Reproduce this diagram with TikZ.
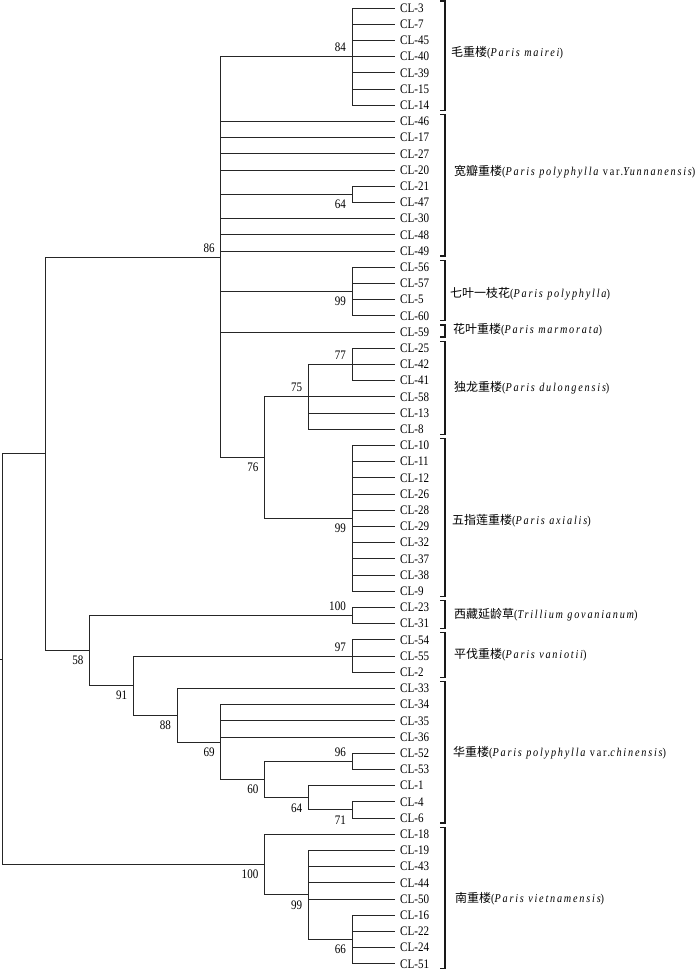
\documentclass[tikz,border=0pt]{standalone}
\usepackage{fontspec}
\setmainfont{Liberation Serif}
\newfontfamily\clfont[FakeStretch=0.85]{Liberation Serif}
\newfontfamily\spfont[FakeStretch=0.85,LetterSpace=15]{Liberation Serif}
\newfontfamily\cjk{Noto Sans CJK SC}
\begin{document}
\begin{tikzpicture}[x=1pt,y=-1pt,
  tree/.style={draw=black!85, line width=1pt},
  leaf/.style={anchor=west, inner xsep=5pt, inner ysep=0pt, text=black,
    font=\clfont\fontsize{13}{15}\selectfont},
  bsup/.style={anchor=south east, inner sep=0pt, xshift=-6pt, yshift=4.5pt, text=black,
    font=\clfont\fontsize{13}{15}\selectfont},
  bsdn/.style={anchor=north east, inner sep=0pt, xshift=-6pt, yshift=-5.5pt, text=black,
    font=\clfont\fontsize{13}{15}\selectfont},
  brk/.style={draw=black!90, line width=1.3pt},
  grp/.style={anchor=base west, inner sep=0pt, text=black, font=\fontsize{12}{14}\selectfont}
]
\useasboundingbox (0,0) rectangle (700,970);

% leaves
\foreach \lab [count=\i] in {3,7,45,40,39,15,14,46,17,27,20,21,47,30,48,49,56,57,5,60,59,25,42,41,58,13,8,10,11,12,26,28,29,32,37,38,9,23,31,54,55,2,33,34,35,36,52,53,1,4,6,18,19,43,44,50,16,22,24,51}
  \node[leaf] (L\lab) at (395,{8+(\i-1)*16.2}) {CL-\lab};

% internal nodes
\coordinate (n84)   at (352,56.6);
\coordinate (n64a)  at (352,194.3);
\coordinate (n99a)  at (352,291.5);
\coordinate (n77)   at (352,364.4);
\coordinate (n75)   at (308.25,396.8);
\coordinate (n99b)  at (352,518.3);
\coordinate (n76)   at (264.5,457.55);
\coordinate (n86)   at (220.75,257.1);
\coordinate (n100a) at (352,615.5);
\coordinate (n97)   at (352,656);
\coordinate (n71)   at (352,809.9);
\coordinate (n64b)  at (308.25,797.75);
\coordinate (n96)   at (352,761.3);
\coordinate (n60)   at (264.5,779.5);
\coordinate (n69)   at (220.75,742.05);
\coordinate (n88)   at (177,715.2);
\coordinate (n91)   at (133.25,685.6);
\coordinate (n58)   at (89.5,650.55);
\coordinate (n45)   at (45.75,453.8);
\coordinate (n66)   at (352,939.5);
\coordinate (n99c)  at (308.25,894.95);
\coordinate (n100b) at (264.5,864.6);
\coordinate (root)  at (2,659.2);
\coordinate (stub)  at (0,659.2);

% edges
\foreach \p/\cs in {
  n84/{L3,L7,L45,L40,L39,L15,L14},
  n64a/{L21,L47},
  n99a/{L56,L57,L5,L60},
  n77/{L25,L42,L41},
  n75/{n77,L58,L13,L8},
  n99b/{L10,L11,L12,L26,L28,L29,L32,L37,L38,L9},
  n76/{n75,n99b},
  n86/{n84,L46,L17,L27,L20,n64a,L30,L48,L49,n99a,L59,n76},
  n100a/{L23,L31},
  n97/{L54,L55,L2},
  n71/{L4,L6},
  n64b/{L1,n71},
  n96/{L52,L53},
  n60/{n96,n64b},
  n69/{L34,L35,L36,n60},
  n88/{L33,n69},
  n91/{n97,n88},
  n58/{n100a,n91},
  n45/{n86,n58},
  n66/{L16,L22,L24,L51},
  n99c/{L19,L43,L44,L50,n66},
  n100b/{L18,n99c},
  root/{n45,n100b}}
  {\foreach \c in \cs {\draw[tree] (\p) |- (\c);}}
\draw[tree] (stub) -- (root);

% bootstrap values
\node[bsup] (b84)   at (n84)   {84};
\node[bsdn] (b64a)  at (n64a)  {64};
\node[bsup] (b86)   at (n86)   {86};
\node[bsdn] (b99a)  at (n99a)  {99};
\node[bsup] (b77)   at (n77)   {77};
\node[bsup] (b75)   at (n75)   {75};
\node[bsdn] (b76)   at (n76)   {76};
\node[bsdn] (b99b)  at (n99b)  {99};
\node[bsup] (b100a) at (n100a) {100};
\node[bsdn] (b58)   at (n58)   {58};
\node[bsup] (b97)   at (n97)   {97};
\node[bsdn] (b91)   at (n91)   {91};
\node[bsdn] (b88)   at (n88)   {88};
\node[bsdn] (b69)   at (n69)   {69};
\node[bsup] (b96)   at (n96)   {96};
\node[bsdn] (b60)   at (n60)   {60};
\node[bsdn] (b64b)  at (n64b)  {64};
\node[bsdn] (b71)   at (n71)   {71};
\node[bsdn] (b100b) at (n100b) {100};
\node[bsdn] (b99c)  at (n99c)  {99};
\node[bsdn] (b66)   at (n66)   {66};

% brackets
\foreach \t/\b in {1/110.2, 114.4/256, 260.2/320.8, 325/337, 341.2/434.2, 438.4/596.2, 600.4/628.6, 632.8/677.2, 681.4/823, 827.2/968.8}
  \draw[brk] (440,\t) -- (445,\t) -- (445,\b) -- (440,\b);

% group labels
\node[grp] (g1)  at (451,56.5)  {{\cjk 毛重楼}{\spfont(\itshape Paris mairei\upshape)}};
\node[grp] (g2)  at (454,175.5) {{\cjk 宽瓣重楼}{\spfont(\itshape Paris polyphylla \upshape var.\itshape Yunnanensis\upshape)}};
\node[grp] (g3)  at (450,297.5) {{\cjk 七叶一枝花}{\spfont(\itshape Paris polyphylla\upshape)}};
\node[grp] (g4)  at (453,333.5) {{\cjk 花叶重楼}{\spfont(\itshape Paris marmorata\upshape)}};
\node[grp] (g5)  at (454,391.5) {{\cjk 独龙重楼}{\spfont(\itshape Paris dulongensis\upshape)}};
\node[grp] (g6)  at (452,524.5) {{\cjk 五指莲重楼}{\spfont(\itshape Paris axialis\upshape)}};
\node[grp] (g7)  at (454,618.5) {{\cjk 西藏延龄草}{\spfont(\itshape Trillium govanianum\upshape)}};
\node[grp] (g8)  at (454,658.5) {{\cjk 平伐重楼}{\spfont(\itshape Paris vaniotii\upshape)}};
\node[grp] (g9)  at (453,756.5) {{\cjk 华重楼}{\spfont(\itshape Paris polyphylla \upshape var.\itshape chinensis\upshape)}};
\node[grp] (g10) at (455,902.5) {{\cjk 南重楼}{\spfont(\itshape Paris vietnamensis\upshape)}};
\end{tikzpicture}
\end{document}
